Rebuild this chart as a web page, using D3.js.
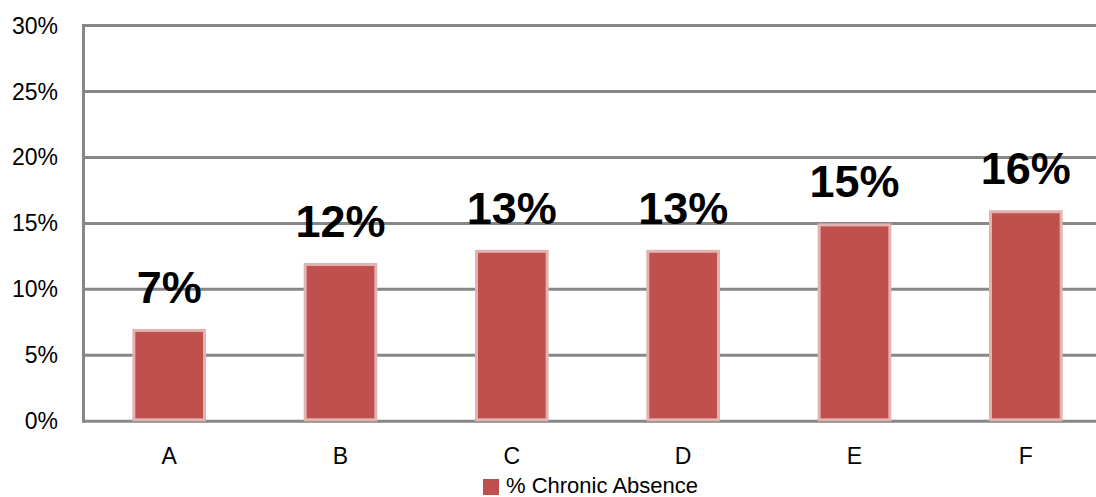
<!DOCTYPE html>
<html>
<head>
<meta charset="utf-8">
<script src="https://cdn.jsdelivr.net/npm/d3@7"></script>
<style>
  body { margin: 0; background: #fff; overflow: hidden; }
  svg { display: block; }
</style>
</head>
<body>
<div id="chart"></div>
<script>
// data
const categories = ["A", "B", "C", "D", "E", "F"];
const values = [7, 12, 13, 13, 15, 16];
const yTicks = [0, 5, 10, 15, 20, 25, 30];
const seriesName = "% Chronic Absence";

const W = 1096, H = 497;
const font = "'Liberation Sans', Arial, sans-serif";

const svg = d3.select("#chart").append("svg")
  .attr("width", W)
  .attr("height", H);

// scales
const x = d3.scaleBand()
  .domain(categories)
  .range([83.5, 1111.5])
  .paddingInner(0.57)
  .paddingOuter(0.285);

const y = d3.scaleLinear()
  .domain([0, 30])
  .range([421.3, 25.5]);

// gridlines
svg.append("g")
  .selectAll("line")
  .data(yTicks)
  .enter()
  .append("line")
  .attr("x1", 83.5)
  .attr("x2", 1111.5)
  .attr("y1", d => y(d))
  .attr("y2", d => y(d))
  .style("stroke", "#878787")
  .style("stroke-width", 3);

// left axis line
svg.append("line")
  .attr("x1", 83.5).attr("x2", 83.5)
  .attr("y1", y(30) - 1.5).attr("y2", y(0) + 1.5)
  .style("stroke", "#878787")
  .style("stroke-width", 3);

// y tick labels
svg.append("g")
  .selectAll("text")
  .data(yTicks)
  .enter()
  .append("text")
  .attr("x", 58)
  .attr("y", d => y(d))
  .attr("dy", "0.35em")
  .attr("text-anchor", "end")
  .attr("font-family", font)
  .attr("font-size", "23px")
  .style("fill", "#000")
  .text(d => d + "%");

// bars
const data = categories.map((c, i) => ({cat: c, val: values[i]}));

svg.append("g")
  .selectAll("rect")
  .data(data)
  .enter()
  .append("rect")
  .attr("x", d => x(d.cat) + 1.5)
  .attr("y", d => y(d.val) + 1.5)
  .attr("width", x.bandwidth() - 3)
  .attr("height", d => y(0) - y(d.val) - 3)
  .style("fill", "#C0504D")
  .style("stroke", "#E3B3B2")
  .style("stroke-width", 3);

// value labels
svg.append("g")
  .selectAll("text")
  .data(data)
  .enter()
  .append("text")
  .attr("x", d => x(d.cat) + x.bandwidth() / 2)
  .attr("y", d => y(d.val) - 26)
  .attr("text-anchor", "middle")
  .attr("font-family", font)
  .attr("font-weight", "bold")
  .attr("font-size", "45px")
  .style("fill", "#000")
  .text(d => d.val + "%");

// x labels
svg.append("g")
  .selectAll("text")
  .data(categories)
  .enter()
  .append("text")
  .attr("x", d => x(d) + x.bandwidth() / 2)
  .attr("y", 456)
  .attr("dy", "0.35em")
  .attr("text-anchor", "middle")
  .attr("font-family", font)
  .attr("font-size", "23px")
  .style("fill", "#000")
  .text(d => d);

// legend
const legend = svg.append("g");
legend.append("rect")
  .attr("x", 483)
  .attr("y", 479)
  .attr("width", 16)
  .attr("height", 16)
  .style("fill", "#C0504D");
legend.append("text")
  .attr("x", 506)
  .attr("y", 493)
  .attr("font-family", font)
  .attr("font-size", "22px")
  .style("fill", "#000")
  .text(seriesName);
</script>
</body>
</html>
